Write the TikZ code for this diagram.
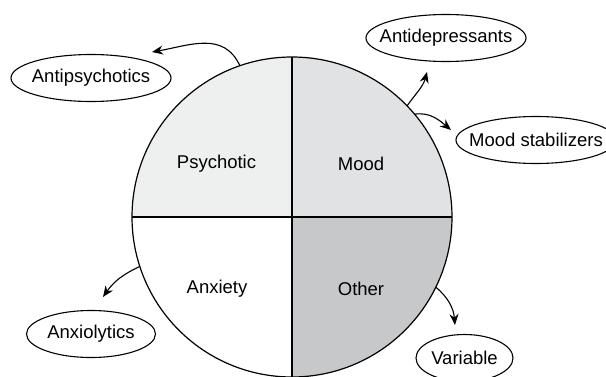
\documentclass[tikz,border=0pt]{standalone}
\usepackage{fontspec}
\setmainfont{Liberation Sans}
\usetikzlibrary{shapes.geometric,arrows.meta}
\definecolor{psyfill}{HTML}{EEEFEF}
\definecolor{moodfill}{HTML}{E1E2E4}
\definecolor{otherfill}{HTML}{C7C8CA}
\begin{document}
\begin{tikzpicture}[x=1pt,y=1pt,
  quadlabel/.style={font=\fontsize{18.5}{22}\selectfont, inner sep=0pt},
  drug/.style={draw, ellipse, line width=1.1pt, inner xsep=-60pt, inner ysep=-20pt,
    minimum height=47pt, font=\fontsize{18.5}{22}\selectfont},
  cure/.style={-{Stealth[length=11pt,width=9pt]}, line width=1.1pt},
]
\useasboundingbox (0,0) rectangle (606,376);
\clip (0,0) rectangle (606,376);

% quadrant shading of the disorder circle
\coordinate (O) at (292,159);
\fill[psyfill] (O) -- ++(180:160) arc[start angle=180,end angle=90,radius=160] -- cycle;
\fill[moodfill] (O) -- ++(0:160) arc[start angle=0,end angle=90,radius=160] -- cycle;
\fill[otherfill] (O) -- ++(0:160) arc[start angle=0,end angle=-90,radius=160] -- cycle;

% circle outline and dividing lines
\node[circle, draw, minimum size=320pt, inner sep=0pt, outer sep=0pt, line width=1.2pt] (C) at (O) {};
\draw[line width=1.2pt] (C.north) -- (C.south);
\draw[line width=1.2pt] (C.west) -- (C.east);

% disorder classes
\node[quadlabel] (psy) at (216.5,212) {Psychotic};
\node[quadlabel] (mood) at (361,212) {Mood};
\node[quadlabel] (anx) at (217,87) {Anxiety};
\node[quadlabel] (oth) at (361,87) {Other};

% drug classes
\node[drug, minimum width=160pt] (antipsy) at (91,298) {Antipsychotics};
\node[drug, minimum width=160pt] (antidep) at (446,338) {Antidepressants};
\node[drug, minimum width=160pt] (moodstab) at (536,236) {Mood stabilizers};
\node[drug, minimum width=129pt] (anxio) at (91,42) {Anxiolytics};
\node[drug, minimum width=97pt] (var) at (464.5,18) {Variable};

% arrow ends
\coordinate (t1) at (152,324);
\coordinate (t2) at (427,304);
\coordinate (t3) at (451,246);
\coordinate (t4) at (103,79);
\coordinate (t5) at (455,51);

% treatment arrows
\draw[cure] (C.109) to[out=115,in=10,looseness=1.1] (t1);
\draw[cure] (C.44) to[out=55,in=255] (t2);
\draw[cure] (C.40) to[out=8,in=140] (t3);
\draw[cure] (C.198) to[out=205,in=55] (t4);
\draw[cure] (C.-26) to[out=-40,in=95] (t5);
\end{tikzpicture}
\end{document}
